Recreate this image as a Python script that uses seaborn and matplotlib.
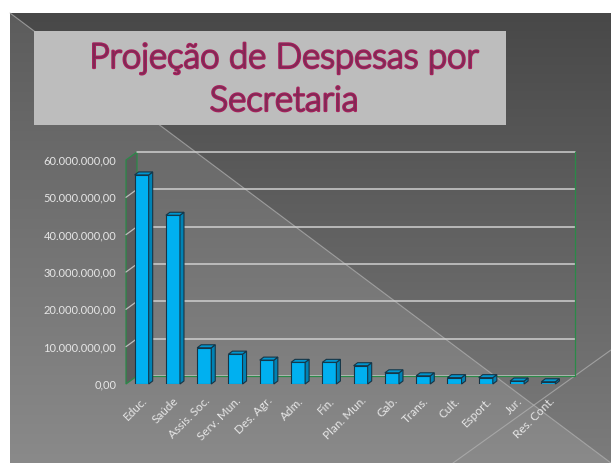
import numpy as np
import pandas as pd
import seaborn as sns
import matplotlib.pyplot as plt
import matplotlib.patheffects as pe
from matplotlib.patches import Polygon, Rectangle
from matplotlib.ticker import FuncFormatter

# Despesas projetadas por secretaria (R$)
secretarias = ['Educ.', 'Saúde', 'Assis. Soc.', 'Serv. Mun.', 'Des. Agr.', 'Adm.', 'Fin.',
               'Plan. Mun.', 'Gab.', 'Trans.', 'Cult.', 'Esport.', 'Jur.', 'Res. Cont.']
despesas = [56.0e6, 45.2e6, 9.7e6, 8.0e6, 6.4e6, 5.8e6, 5.8e6,
            4.9e6, 3.0e6, 2.2e6, 1.7e6, 1.7e6, 0.8e6, 0.6e6]
yticks = [0, 10e6, 20e6, 30e6, 40e6, 50e6, 60e6]
titulo = ['Projeção de Despesas por', 'Secretaria']

df = pd.DataFrame({'Secretaria': secretarias, 'Despesa': despesas})

sns.set_style('white')
plt.rcParams['font.family'] = ['Lato', 'DejaVu Sans']

W, H = 611, 463
fig = plt.figure(figsize=(W / 100, H / 100), dpi=100)

# slide background
bg = fig.add_axes([0, 0, 1, 1], zorder=-5)
yy, xx = np.mgrid[0:H, 0:W].astype(float)
t = (yy - 13) / 450
upper = 72 + t * 52
lower = 92 + t * 46
diag = 13 + (xx - 10) * 450 / 601
val = np.where(yy > diag, lower, upper)
img = np.repeat((val / 255)[:, :, None], 3, axis=2)
img[(xx < 10) | (yy < 13)] = 1.0
bg.imshow(img, extent=(0, W, H, 0), aspect='auto', interpolation='bilinear', zorder=0)
bg.plot([10, 611], [13, 463], color='#b4b4b4', lw=0.8, alpha=0.7, zorder=1)
bg.plot([453, 611], [463, 350], color='#b4b4b4', lw=0.8, alpha=0.7, zorder=1)
bg.add_patch(Rectangle((34, 31), 472, 94, facecolor='#bdbdbd', edgecolor='none', zorder=2))
bg.set_xlim(0, W)
bg.set_ylim(H, 0)
bg.axis('off')

for txt, base in zip(titulo, [68, 111]):
    fig.text(284 / W, (H - base) / H, txt, ha='center', va='baseline',
             fontsize=25, fontweight=300, color='#7a2c55',
             path_effects=[pe.withStroke(linewidth=1.6, foreground='#a8205c')])

# chart (front plane)
x0, x1, y0, y1 = 126, 564, 384, 160
ax = fig.add_axes([x0 / W, (H - y0) / H, (x1 - x0) / W, (y0 - y1) / H])
ax.patch.set_alpha(0)
sns.barplot(data=df, x='Secretaria', y='Despesa', color='#00b0f0', saturation=1,
            width=0.45, edgecolor='#163546', linewidth=0.8, ax=ax, zorder=3)
ax.set_xlim(-0.5, len(secretarias) - 0.5)
ax.set_ylim(0, 60e6)
ax.set_yticks(yticks)
ax.yaxis.set_major_formatter(FuncFormatter(
    lambda v, p: f'{v:,.2f}'.replace(',', 'X').replace('.', ',').replace('X', '.')))
ax.set_xlabel('')
ax.set_ylabel('')
for s in ax.spines.values():
    s.set_visible(False)
ax.tick_params(axis='both', length=0, colors='#e6e6e6')
ax.tick_params(axis='y', pad=7, labelsize=8)
ax.tick_params(axis='x', pad=8, labelsize=8.5)
for lab in ax.get_xticklabels():
    lab.set_rotation(45)
    lab.set_ha('right')
    lab.set_va('top')
    lab.set_rotation_mode('anchor')

inv = ax.transData.inverted()


def shift(x, y, dx, dy):
    px, py = ax.transData.transform((x, y))
    return inv.transform((px + dx, py + dy))


DX, DY = 11, 8
xl, xr = ax.get_xlim()
grn = '#2a8a48'
# left wall
wall = [(xl, 0), tuple(shift(xl, 0, DX, DY)), tuple(shift(xl, 60e6, DX, DY)), (xl, 60e6)]
ax.add_patch(Polygon(wall, closed=True, facecolor='#5c5c5c', edgecolor=grn, lw=0.9,
                     zorder=1, clip_on=False))
# back wall gridlines
for v in yticks:
    a = shift(xl, v, DX, DY)
    b = shift(xr, v, DX, DY)
    ax.plot([a[0], b[0]], [a[1], b[1]], color='#cfcfcf', lw=1.1, zorder=1, clip_on=False)
    if 0 < v < 60e6:
        ax.plot([xl, a[0]], [v, a[1]], color='#bdbdbd', lw=0.9, zorder=1, clip_on=False)
# green frame
fl = shift(xl, 0, DX, DY)
fr = shift(xr, 0, DX, DY)
tr = shift(xr, 60e6, DX, DY)
ax.plot([fl[0], fr[0], tr[0]], [fl[1], fr[1], tr[1]], color=grn, lw=0.9, zorder=2, clip_on=False)

# 3d faces of bars
bd, bh = 4, 3
for p in ax.patches[:len(secretarias)]:
    bx, by = p.get_x(), p.get_y()
    bw, bhh = p.get_width(), p.get_height()
    top = [(bx, by + bhh), (bx + bw, by + bhh),
           tuple(shift(bx + bw, by + bhh, bd, bh)), tuple(shift(bx, by + bhh, bd, bh))]
    side = [(bx + bw, by), tuple(shift(bx + bw, by, bd, bh)),
            tuple(shift(bx + bw, by + bhh, bd, bh)), (bx + bw, by + bhh)]
    ax.add_patch(Polygon(side, closed=True, facecolor='#0082b4', edgecolor='#163546',
                         lw=0.8, zorder=3, clip_on=False))
    ax.add_patch(Polygon(top, closed=True, facecolor='#0096cf', edgecolor='#163546',
                         lw=0.8, zorder=3, clip_on=False))

fig.savefig('out.png', dpi=100)
